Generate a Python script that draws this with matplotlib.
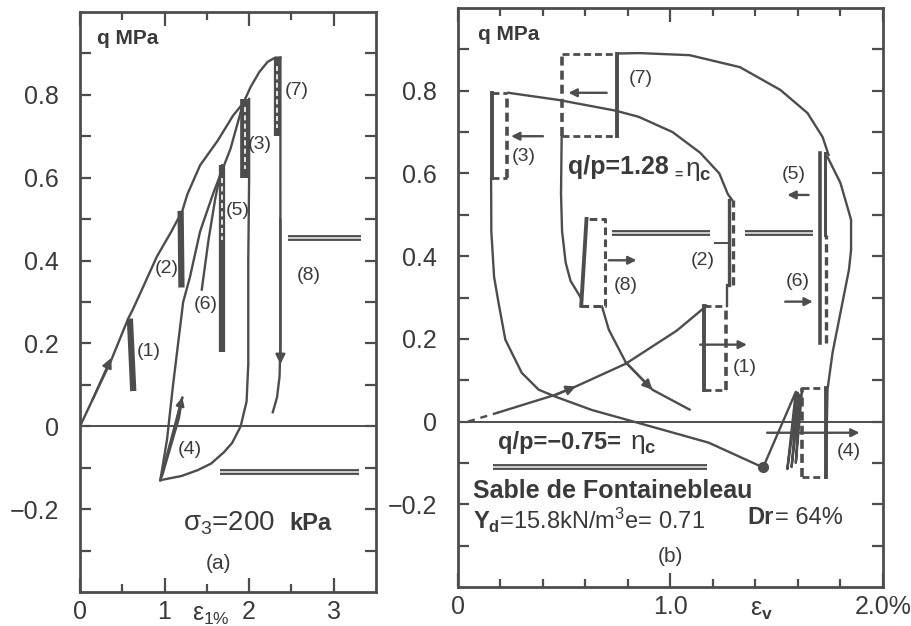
import matplotlib
matplotlib.use("Agg")
import matplotlib.pyplot as plt
import numpy as np

# ---------------------------------------------------------------- data
# (a) q versus axial strain eps1 (%)
env_eps = [0, 0.15, 0.36, 0.57, 0.62, 0.71, 0.91, 1.08, 1.21, 1.27, 1.42, 1.63, 1.81, 1.93, 2.02, 2.12, 2.22, 2.31, 2.37]
env_q = [0, 0.065, 0.155, 0.26, 0.28, 0.32, 0.41, 0.47, 0.52, 0.56, 0.63, 0.69, 0.75, 0.78, 0.82, 0.855, 0.88, 0.89, 0.89]

unload3_eps = [2.0, 2.0, 1.99, 1.99, 1.97, 1.90, 1.80, 1.70, 1.55, 1.39, 1.20, 0.95]
unload3_q = [0.79, 0.60, 0.40, 0.15, 0.06, 0.0, -0.04, -0.063, -0.09, -0.106, -0.12, -0.13]

reload_eps = [0.95, 1.03, 1.10, 1.22, 1.30, 1.42, 1.58, 1.78, 1.93]
reload_q = [-0.13, -0.031, 0.099, 0.30, 0.36, 0.47, 0.565, 0.67, 0.78]

branch5_eps = [1.44, 1.52, 1.60, 1.68]
branch5_q = [0.33, 0.45, 0.55, 0.63]

unload7_eps = [2.37, 2.37, 2.37, 2.36, 2.33, 2.28]
unload7_q = [0.89, 0.50, 0.20, 0.12, 0.07, 0.034]

loop4a_eps = [0.95, 1.21, 1.17, 0.97]
loop4a_q = [-0.13, 0.07, 0.02, -0.12]

# vertical cycle bands in (a): eps_top, eps_bottom, q_top, q_bottom
bands_a = {
    "1": (0.59, 0.63, 0.26, 0.085),
    "2": (1.19, 1.20, 0.52, 0.335),
    "3": (1.95, 1.95, 0.79, 0.60),
    "5": (1.68, 1.68, 0.63, 0.18),
    "7": (2.33, 2.33, 0.89, 0.70),
}
dashed_part_a = {"3": (0.77, 0.62), "5": (0.60, 0.45), "7": (0.87, 0.72)}

# critical state lines in (a): q, eps_start, eps_end
cs_a_q = [0.455, -0.11]
cs_a_start = [2.46, 1.66]
cs_a_end = [3.32, 3.30]

labels_a = ["(1)", "(2)", "(3)", "(4)", "(5)", "(6)", "(7)", "(8)"]
labels_a_eps = [0.81, 1.03, 2.13, 1.30, 1.87, 1.49, 2.56, 2.70]
labels_a_q = [0.18, 0.38, 0.68, -0.055, 0.52, 0.295, 0.81, 0.365]

# (b) q versus volumetric strain eps_v (%)
load_dash_eps = [0.047, 0.19]
load_dash_q = [0.0, 0.022]
load_eps = [0.19, 0.46, 0.555, 0.79, 1.03, 1.17]
load_q = [0.022, 0.065, 0.085, 0.14, 0.22, 0.28]

eta_eps = [0.237, 0.47, 0.74, 0.85, 1.01, 1.14, 1.23, 1.27, 1.29]
eta_q = [0.795, 0.778, 0.752, 0.737, 0.70, 0.65, 0.60, 0.55, 0.536]

link12_eps = [1.265, 1.265]
link12_q = [0.28, 0.33]

unl3_eps = [0.156, 0.157, 0.17, 0.19, 0.223, 0.30, 0.38, 0.46, 0.63, 0.84, 1.18, 1.436]
unl3_q = [0.59, 0.46, 0.35, 0.29, 0.198, 0.118, 0.077, 0.06, 0.028, -0.002, -0.051, -0.111]

cyc4_eps = [1.436, 1.59, 1.55, 1.60, 1.57, 1.61, 1.59, 1.62]
cyc4_q = [-0.111, 0.072, -0.115, 0.07, -0.11, 0.065, -0.10, 0.08]

right_eps = [1.739, 1.80, 1.85, 1.85, 1.84, 1.80, 1.763, 1.739, 1.735, 1.73]
right_q = [0.64, 0.577, 0.488, 0.415, 0.367, 0.263, 0.167, 0.077, -0.043, -0.133]

arc_eps = [0.75, 0.853, 1.09, 1.327, 1.517, 1.645, 1.716, 1.744]
arc_q = [0.89, 0.891, 0.886, 0.857, 0.802, 0.746, 0.688, 0.645]

down7_eps = [0.488, 0.485, 0.49, 0.507, 0.53, 0.555, 0.583]
down7_q = [0.69, 0.55, 0.46, 0.384, 0.34, 0.319, 0.295]

tail8_eps = [0.678, 0.71, 0.79, 0.915, 1.09]
tail8_q = [0.278, 0.222, 0.143, 0.077, 0.029]

# cycle boxes in (b): eps_left, eps_right, q_bottom, q_top, solid side
boxes_b = {
    "3": (0.16, 0.23, 0.59, 0.795, "left"),
    "7": (0.49, 0.75, 0.69, 0.89, "right"),
    "1": (1.16, 1.26, 0.077, 0.28, "left"),
    "4": (1.62, 1.73, -0.133, 0.08, "right"),
}
box8_eps = [0.605, 0.58, 0.69, 0.69, 0.605]
box8_q = [0.49, 0.28, 0.28, 0.49, 0.49]

cs_b_q = [0.455, 0.455, -0.11]
cs_b_start = [0.725, 1.35, 0.166]
cs_b_end = [1.185, 1.67, 1.17]

# strain-direction arrows in (b): eps_tail, eps_head, q
dir_tail = [0.40, 0.70, 0.71, 1.14, 1.65, 1.54, 1.455]
dir_head = [0.25, 0.52, 0.84, 1.36, 1.55, 1.67, 1.89]
dir_q = [0.69, 0.795, 0.39, 0.186, 0.548, 0.29, -0.027]

labels_b = ["(1)", "(2)", "(3)", "(4)", "(5)", "(6)", "(7)", "(8)"]
labels_b_eps = [1.35, 1.15, 0.31, 1.84, 1.58, 1.60, 0.86, 0.79]
labels_b_q = [0.13, 0.39, 0.64, -0.072, 0.597, 0.338, 0.83, 0.33]

# ---------------------------------------------------------------- style
INK = "#4d4d4d"
TXT = "#3a3a3a"
LW = 1.7
SANS = "Liberation Sans"
plt.rcParams["font.family"] = [SANS, "DejaVu Sans"]
plt.rcParams["mathtext.fontset"] = "custom"
plt.rcParams["mathtext.rm"] = SANS
plt.rcParams["mathtext.it"] = SANS
plt.rcParams["mathtext.bf"] = SANS + ":bold"

fig = plt.figure(figsize=(9.11, 6.26), dpi=100)
ax1 = fig.add_axes([0.0878, 0.0543, 0.3249, 0.9265])
ax2 = fig.add_axes([0.5027, 0.0623, 0.4665, 0.9249])


def frame(ax, xlim, xmaj, xlabels, xmin):
    ax.set_xlim(*xlim)
    ax.set_ylim(-0.4, 1.0)
    for s in ax.spines.values():
        s.set_linewidth(2.0)
        s.set_color(INK)
    ax.set_xticks(xmaj)
    ax.set_xticklabels(xlabels)
    ax.set_xticks(xmin, minor=True)
    ax.set_yticks([-0.2, 0, 0.2, 0.4, 0.6, 0.8])
    ax.set_yticklabels(["\u22120.2", "0", "0.2", "0.4", "0.6", "0.8"])
    ax.set_yticks([-0.3, -0.1, 0.1, 0.3, 0.5, 0.7, 0.9], minor=True)
    ax.tick_params(which="both", direction="in", top=True, right=True,
                   color=INK, width=1.6, labelsize=18, labelcolor=TXT)
    ax.tick_params(axis="y", which="both", length=8, pad=15)
    ax.tick_params(axis="x", which="major", length=10, pad=6)
    ax.tick_params(axis="x", which="minor", length=6)
    ax.axhline(0, color=INK, lw=1.4, zorder=1)


def arrow(ax, x0, y0, x1, y1, scale=14):
    ax.annotate("", xy=(x1, y1), xytext=(x0, y0),
                arrowprops=dict(arrowstyle="-|>", color=INK, lw=LW,
                                mutation_scale=scale, shrinkA=0, shrinkB=0))


def double_bar(ax, q, e0, e1):
    ax.plot([e0, e1], [q, q], color=INK, lw=4.2, solid_capstyle="butt", zorder=3)
    ax.plot([e0, e1], [q, q], color="#d9d9d9", lw=1.3, solid_capstyle="butt", zorder=4)


BOLD = dict(fontweight="bold", color=TXT)

# ---------------------------------------------------------------- (a)
frame(ax1, (0, 3.5), [0, 1, 2, 3], ["0", "1", "2", "3"], [0.5, 1.5, 2.5])

for xs, ys in [(env_eps, env_q), (unload3_eps, unload3_q), (reload_eps, reload_q),
               (branch5_eps, branch5_q), (unload7_eps, unload7_q), (loop4a_eps, loop4a_q)]:
    ax1.plot(xs, ys, color=INK, lw=LW, solid_joinstyle="round", zorder=2)

for key, (et, eb, qt, qb) in bands_a.items():
    w = 7.0 if key == "3" else 4.5
    ax1.plot([et, eb], [qt, qb], color=INK, lw=w, solid_capstyle="butt", zorder=3)
    if key in dashed_part_a:
        d0, d1 = dashed_part_a[key]
        ax1.plot([eb, eb], [d0, d1], color="white", lw=1.2, ls=(0, (3, 2)), zorder=4)

for q, e0, e1 in zip(cs_a_q, cs_a_start, cs_a_end):
    double_bar(ax1, q, e0, e1)

arrow(ax1, env_eps[1], env_q[1], 0.37, 0.165)
arrow(ax1, unload7_eps[1], unload7_q[1], 2.37, 0.15)
arrow(ax1, loop4a_eps[0] + 0.2, loop4a_q[0] + 0.15, loop4a_eps[1], loop4a_q[1], scale=12)

for t, x, y in zip(labels_a, labels_a_eps, labels_a_q):
    ax1.text(x, y, t, fontsize=14, color=TXT, ha="center", va="center")

ax1.text(0.2, 0.935, "q MPa", fontsize=15, ha="left", va="center", **BOLD)
ax1.text(1.22, -0.235, r"$\sigma_3$=200", fontsize=20, color=TXT, ha="left", va="center")
ax1.text(2.48, -0.235, "kPa", fontsize=17, ha="left", va="center", **BOLD)
ax1.text(1.64, -0.33, "(a)", fontsize=15, color=TXT, ha="center", va="center")
ax1.text(1.55, -0.455, r"$\varepsilon_{1\%}$", fontsize=18, color=TXT,
         ha="center", va="center", clip_on=False)

# ---------------------------------------------------------------- (b)
frame(ax2, (0, 2.0), [0, 1.0, 2.0], ["0", "1.0", "2.0%"],
      [0.2, 0.4, 0.6, 0.8, 1.2, 1.4, 1.6, 1.8])

ax2.plot(load_dash_eps, load_dash_q, color=INK, lw=LW, ls=(0, (3, 2.5)), zorder=2)
for xs, ys in [(load_eps, load_q), (eta_eps, eta_q), (link12_eps, link12_q),
               (unl3_eps, unl3_q), (cyc4_eps, cyc4_q), (right_eps, right_q),
               (arc_eps, arc_q), (down7_eps, down7_q), (tail8_eps, tail8_q)]:
    ax2.plot(xs, ys, color=INK, lw=LW, solid_joinstyle="round", zorder=2)

ax2.plot([unl3_eps[-1]], [unl3_q[-1]], "o", color=INK, ms=7, zorder=3)

DASH = (0, (2.5, 1.4))
for key, (el, er, qb, qt, solid) in boxes_b.items():
    xs_solid = el if solid == "left" else er
    xs_dash = er if solid == "left" else el
    ax2.plot([xs_solid, xs_solid], [qb, qt], color=INK, lw=2.8, zorder=3)
    ax2.plot([xs_dash, xs_dash], [qb, qt], color=INK, lw=2.6, ls=DASH, zorder=3)
    ax2.plot([el, er], [qt, qt], color=INK, lw=2.0, ls=DASH, zorder=3)
    ax2.plot([el, er], [qb, qb], color=INK, lw=2.0, ls=DASH, zorder=3)

ax2.plot(box8_eps[:2], box8_q[:2], color=INK, lw=2.8, zorder=3)
ax2.plot(box8_eps[1:], box8_q[1:], color=INK, lw=2.2, ls=DASH, zorder=3)

# narrow cycle bands (2) and (5)/(6)
ax2.plot([1.275, 1.275], [0.33, 0.536], color=INK, lw=2.4, zorder=3)
ax2.plot([1.295, 1.295], [0.33, 0.536], color=INK, lw=2.4, ls=DASH, zorder=3)
ax2.plot([1.705, 1.705], [0.19, 0.65], color=INK, lw=2.6, zorder=3)
ax2.plot([1.728, 1.728], [0.45, 0.65], color=INK, lw=2.2, zorder=3)
ax2.plot([1.73, 1.73], [0.19, 0.45], color=INK, lw=2.4, ls=DASH, zorder=3)
ax2.plot([1.21, 1.265], [0.432, 0.432], color=INK, lw=1.4, zorder=3)

for q, e0, e1 in zip(cs_b_q, cs_b_start, cs_b_end):
    double_bar(ax2, q, e0, e1)

for e0, e1, q in zip(dir_tail, dir_head, dir_q):
    arrow(ax2, e0, q, e1, q, scale=12)

arrow(ax2, load_eps[1], load_q[1], load_eps[2], load_q[2])
arrow(ax2, tail8_eps[2], tail8_q[2], tail8_eps[3], tail8_q[3])

for t, x, y in zip(labels_b, labels_b_eps, labels_b_q):
    ax2.text(x, y, t, fontsize=14, color=TXT, ha="center", va="center")

ax2.text(0.095, 0.935, "q MPa", fontsize=15, ha="left", va="center", **BOLD)
ax2.text(0.52, 0.615, "q/p=1.28", fontsize=18, ha="left", va="center", **BOLD)
ax2.text(1.02, 0.598, "=", fontsize=10, ha="left", va="center", **BOLD)
ax2.text(1.07, 0.607, r"$\eta_{\mathbf{c}}$", fontsize=19, color=TXT, ha="left", va="center")
ax2.text(0.19, -0.05, "q/p=\u22120.75=", fontsize=17, ha="left", va="center", **BOLD)
ax2.text(0.81, -0.055, r"$\eta_{\mathbf{c}}$", fontsize=19, color=TXT, ha="left", va="center")
ax2.text(0.07, -0.168, "Sable de Fontainebleau", fontsize=18, ha="left", va="center", **BOLD)
ax2.text(0.07, -0.238, r"$\mathbf{Y_d}$=15.8kN/m$^3$e= 0.71", fontsize=17, color=TXT,
         ha="left", va="center")
ax2.text(1.36, -0.232, "Dr", fontsize=17, ha="left", va="center", **BOLD)
ax2.text(1.49, -0.232, "= 64%", fontsize=17, color=TXT, ha="left", va="center")
ax2.text(1.0, -0.326, "(b)", fontsize=15, color=TXT, ha="center", va="center")
ax2.text(1.43, -0.455, r"$\varepsilon_{\mathbf{v}}$", fontsize=18, color=TXT,
         ha="center", va="center", clip_on=False)

fig.savefig("out.png", dpi=100)
